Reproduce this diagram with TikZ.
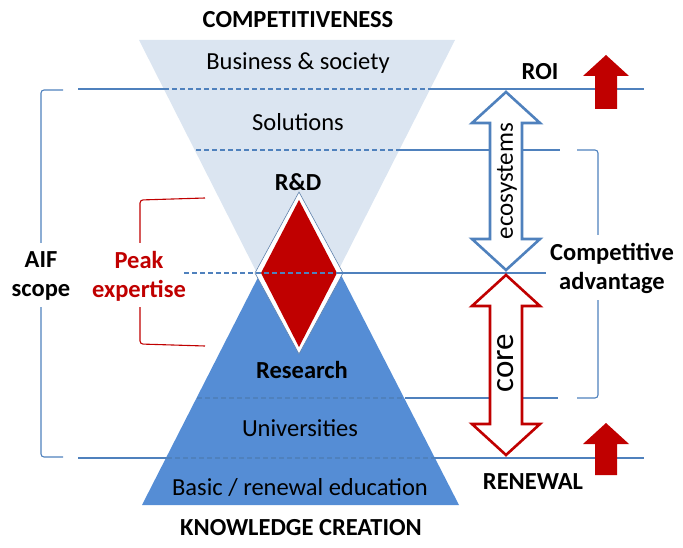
\documentclass[tikz,border=0pt]{standalone}
\usepackage{fontspec}
\setmainfont{Carlito}
\usepackage{tikz}
\usetikzlibrary{arrows}

\begin{document}
\begin{tikzpicture}[x=1pt,y=-1pt]
	
	\definecolor{paleblue}{RGB}{219,229,241}
	\definecolor{midblue}{RGB}{85,141,213}
	\definecolor{lineblue}{RGB}{79,129,189}
	\definecolor{darkred}{RGB}{192,0,0}
	
	\useasboundingbox (0,0) rectangle (683,548);
	
	\tikzstyle{edge} = [draw,lineblue,line width=1.1pt]
	\tikzstyle{dashedge} = [edge,dash pattern=on 5pt off 3pt]
	\tikzstyle{brace} = [draw,line width=1.1pt,rounded corners=3pt]
	\tikzset{label/.style = {font=\fontsize{24.5}{29}\selectfont,align=center}}
	\tikzset{heading/.style = {label,font=\fontsize{24.5}{29}\selectfont\bfseries}}
	
	% the two funnels
	\fill[paleblue] (139,40) -- (455,40) -- (297,352) -- cycle;
	\fill[midblue] (142,505) -- (459,505) -- (300,195) -- cycle;
	
	% R&D diamond
	\draw[lineblue!70!gray,fill=white,line width=0.6pt] (299,192) -- (343,273) -- (299,354) -- (255,273) -- cycle;
	\fill[darkred] (299,200) -- (337,273) -- (299,347) -- (261,273) -- cycle;
	
	% levels
	\draw[edge] (78,89) -- (164,89);
	\draw[dashedge] (164,89) -- (430,89);
	\draw[edge] (430,89) -- (644,89);
	\draw[dashedge] (196,150) -- (399,150);
	\draw[edge] (399,150) -- (560,150);
	\draw[dashedge] (184,273) -- (340,273);
	\draw[edge] (340,273) -- (546,273);
	\draw[dashedge] (197,398) -- (405,398);
	\draw[edge] (405,398) -- (558,398);
	\draw[edge] (78,458) -- (167,458);
	\draw[dashedge] (167,458) -- (434,458);
	\draw[edge] (434,458) -- (644,458);
	
	\node[heading] (compet) at (298,20) {COMPETITIVENESS};
	\node[label] (business) at (298,63) {Business \& society};
	\node[label] (solutions) at (298,122) {Solutions};
	\node[heading] (rd) at (298,182) {R\&D};
	\node[heading] (research) at (302,370) {Research};
	\node[label] (univ) at (300,428) {Universities};
	\node[label] (basic) at (300,488) {Basic / renewal education};
	\node[heading] (knowl) at (301,528) {KNOWLEDGE CREATION};
	
	% brackets on the sides
	\draw[brace,lineblue] (63,90) -- (41,90) -- (41,243);
	\draw[brace,lineblue] (41,307) -- (41,457) -- (63,457);
	\node[heading] (aif) at (41,276) {AIF\\scope};
	
	\draw[brace,darkred] (205,198) -- (140,200) -- (140,243);
	\draw[brace,darkred] (140,307) -- (140,344) -- (205,346);
	\node[heading,darkred] (peak) at (139,276) {Peak\\expertise};
	
	\draw[brace,lineblue] (577,150) -- (598,150) -- (598,235);
	\draw[brace,lineblue] (598,300) -- (598,398) -- (577,398);
	\node[heading] (advantage) at (612,268) {Competitive\\advantage};
	
	% ecosystems and core
	\tikzset{twoway/.style = {fill=white,line width=2.6pt,miter limit=4}}
	\draw[twoway,draw=lineblue] (506,92) -- (540,123) -- (522,123) -- (522,239) -- (540,239) -- (506,270)
		-- (472,239) -- (490,239) -- (490,123) -- (472,123) -- cycle;
	\draw[twoway,draw=darkred] (506,275) -- (540,306) -- (522,306) -- (522,424) -- (540,424) -- (506,455)
		-- (472,424) -- (490,424) -- (490,306) -- (472,306) -- cycle;
	\node[rotate=90,font=\fontsize{25}{25}\selectfont] (eco) at (507,181) {ecosystems};
	\node[rotate=90,font=\fontsize{33}{33}\selectfont] (core) at (506,363) {core};
	
	% ROI and renewal
	\fill[darkred] (606,55) -- (629,76) -- (617,76) -- (617,109) -- (595,109) -- (595,76) -- (583,76) -- cycle;
	\fill[darkred] (606,423) -- (629,444) -- (617,444) -- (617,475) -- (595,475) -- (595,444) -- (583,444) -- cycle;
	\node[heading] (roi) at (540,72) {ROI};
	\node[heading] (renewal) at (533,482) {RENEWAL};
	
\end{tikzpicture}
\end{document}
